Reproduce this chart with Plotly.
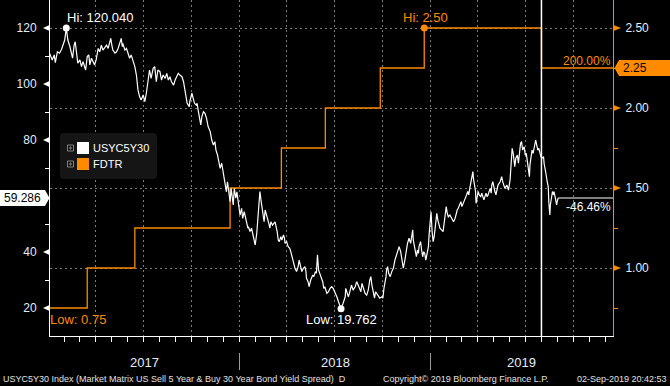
import plotly.graph_objects as go

# ---------------- data ----------------
usyc_md_2017 = ["01-03","01-08","01-12","01-14","01-18","01-22","01-26","01-29","02-01","02-04",
                "02-07","02-11","02-14","02-16","02-19","02-21","02-23","02-26","03-02","03-05",
                "03-08","03-11","03-13","03-16","03-19","03-21","03-24","03-27","03-30","04-02",
                "04-06","04-09","04-12","04-15","04-18","04-22","04-25","04-28","04-30","05-02",
                "05-04","05-08","05-11","05-14","05-17","05-20","05-22","05-23","05-27","05-30",
                "06-02","06-05","06-08","06-12","06-15","06-18","06-21","06-24","06-27","07-01",
                "07-04","07-07","07-10","07-13","07-16","07-20","07-23","07-26","07-29",
                "08-02","08-05","08-08","08-12","08-15","08-18","08-21","08-24","08-28","08-31",
                "09-03","09-06","09-09","09-13","09-16","09-19","09-21","09-23","09-27","09-28",
                "10-02","10-04","10-07","10-10","10-12","10-14","10-16","10-19","10-21","10-24","10-27","10-30",
                "11-02","11-06","11-09","11-12","11-15","11-17","11-20","11-22","11-25","11-28","11-30",
                "12-02","12-05","12-07","12-09","12-12","12-14","12-16","12-18","12-20","12-22","12-25","12-27","12-30"]
usyc_val_2017 = [111.0,108.6,110.4,107.6,111.5,111.0,112.4,114.0,115.7,120.04,
                 115.7,113.3,111.0,109.2,113.9,115.1,112.1,107.4,108.6,106.2,
                 108.0,105.6,105.0,109.8,110.4,106.8,109.2,108.0,106.8,108.6,
                 112.7,111.5,113.9,112.1,113.1,113.9,112.7,114.5,116.3,113.9,
                 112.1,111.0,111.5,112.7,114.5,116.3,113.3,114.5,112.1,112.7,
                 111.0,109.2,110.4,108.0,106.2,103.2,97.9,95.5,94.3,96.1,
                 93.7,96.7,100.2,105.0,102.0,105.6,106.2,100.8,105.0,
                 104.4,101.4,103.2,102.0,103.8,101.4,102.6,100.8,99.6,101.4,
                 102.6,103.8,103.2,102.6,100.8,97.3,94.9,93.1,91.9,93.7,
                 96.7,94.9,93.1,92.5,93.1,90.7,89.0,85.4,88.3,90.1,89.5,87.7,
                 84.8,83.0,80.0,78.2,79.4,76.4,74.6,72.3,69.9,71.7,69.3,
                 66.9,63.9,61.5,65.1,60.4,58.0,62.7,60.4,56.8,62.7,59.2,61.5,58.0]

usyc_md_2018 = ["01-02","01-05","01-07","01-10","01-13","01-17","01-18","01-21","01-24","01-27","01-31",
                "02-03","02-06","02-08","02-09","02-11","02-13","02-16","02-17","02-19","02-22","02-24","02-26","02-28",
                "03-02","03-05","03-07","03-10","03-12","03-14","03-16","03-18","03-21","03-23","03-26","03-28","03-29",
                "04-01","04-04","04-07","04-09","04-11","04-14","04-17","04-20","04-23","04-25","04-28","04-30",
                "05-03","05-06","05-08","05-09","05-12","05-14","05-17","05-19","05-21","05-23","05-26","05-28","05-30",
                "06-01","06-04","06-07","06-09","06-11","06-13","06-17","06-20","06-23","06-26","06-29",
                "07-02","07-06","07-09","07-14","07-18","07-22","07-23","07-26","07-28","07-30",
                "08-01","08-03","08-06","08-10","08-13","08-16","08-19","08-21","08-23","08-26","08-29",
                "09-01","09-04","09-07","09-09","09-11","09-14","09-16","09-18","09-20","09-23","09-26","09-30",
                "10-02","10-04","10-06","10-08","10-09","10-11","10-13","10-16","10-19","10-22","10-25","10-28","10-31",
                "11-02","11-05","11-07","11-09","11-10","11-13","11-15","11-18","11-20","11-21","11-24","11-26","11-28","11-29",
                "12-01","12-03","12-05","12-07","12-09","12-10","12-13","12-15","12-17","12-19","12-21","12-23","12-26","12-28","12-29","12-31"]
usyc_val_2018 = [53.2,55.6,52.0,54.4,51.4,48.5,49.0,47.3,48.5,45.5,42.5,
                 46.7,53.8,58.0,61.6,58.6,55.6,52.6,50.8,55.0,53.2,52.0,50.2,48.5,
                 50.8,49.6,50.2,50.8,49.0,47.3,44.3,43.7,45.5,44.3,46.1,44.9,43.1,
                 43.7,41.9,41.3,40.1,38.3,36.0,34.2,33.0,34.8,37.1,34.8,33.0,
                 34.2,34.8,33.0,30.6,29.4,27.6,30.0,31.2,31.8,31.2,33.0,32.4,39.0,
                 33.6,31.8,30.6,29.4,27.0,27.6,25.2,25.8,27.0,27.6,27.0,
                 25.8,24.0,22.3,19.762,21.7,24.0,27.0,25.2,24.0,25.2,
                 27.0,28.2,26.4,27.6,29.4,28.2,27.0,25.8,28.8,27.0,25.2,
                 24.6,26.4,30.0,31.2,28.2,24.6,23.5,25.8,25.2,24.0,23.5,24.0,
                 23.5,27.0,28.8,31.2,33.6,34.8,32.4,31.2,33.0,34.2,37.1,38.9,40.7,
                 41.9,40.1,37.7,35.4,34.2,37.1,40.1,43.1,44.3,44.9,43.1,45.5,47.9,44.3,
                 42.5,40.1,38.3,40.7,39.5,41.9,43.7,40.7,38.3,40.1,39.5,37.1,39.5,41.9,45.5,50.8]

usyc_md_2019 = ["01-02","01-04","01-06","01-08","01-10","01-11","01-13","01-15","01-17","01-19","01-22","01-25","01-29","01-31",
                "02-02","02-04","02-07","02-10","02-14","02-17","02-19","02-21","02-23","02-26","02-28",
                "03-02","03-05","03-08","03-11","03-13","03-15","03-17","03-19","03-21","03-23","03-24","03-26","03-28","03-29","03-31",
                "04-02","04-04","04-07","04-09","04-11","04-13","04-15","04-17","04-19","04-21","04-23","04-25","04-27","04-28","04-30",
                "05-02","05-04","05-06","05-09","05-10","05-14","05-17","05-19","05-21","05-23","05-27","05-30",
                "06-02","06-04","06-06","06-08","06-11","06-13","06-16","06-18","06-20","06-22","06-24","06-26","06-29",
                "07-01","07-03","07-05","07-07","07-09","07-10","07-12","07-14","07-16","07-18","07-21","07-23","07-25","07-27","07-29","07-31",
                "08-02","08-05","08-06","08-08","08-10","08-12","08-14","08-15","08-17","08-18","08-20","08-22","08-24","08-25","08-27","08-29","08-30","08-31",
                "09-02"]
usyc_val_2019 = [54.4,47.3,43.7,45.5,49.0,51.4,53.8,51.4,50.2,48.5,47.9,47.3,53.2,56.2,
                 53.8,52.6,53.2,52.0,50.8,52.0,53.8,55.0,55.6,56.8,58.0,
                 56.2,57.4,58.6,60.4,61.6,60.4,62.7,64.5,65.7,68.7,66.3,63.9,61.6,57.4,59.8,
                 61.6,60.4,59.8,61.0,59.8,58.6,59.8,61.0,59.8,60.4,61.6,62.7,61.0,63.9,65.1,
                 62.7,61.6,60.4,62.7,63.9,65.1,66.9,65.1,63.3,62.7,63.9,62.1,
                 65.7,72.3,77.0,75.2,70.5,73.5,74.6,71.7,75.8,78.8,79.4,76.4,77.6,
                 74.6,75.2,72.9,70.5,66.9,71.1,74.6,76.4,75.2,77.6,80.0,78.2,76.4,77.0,75.2,74.0,
                 73.5,74.0,71.7,68.7,67.5,65.1,63.3,58.0,53.2,56.8,59.8,61.6,60.4,61.6,59.8,58.0,56.8,58.0,
                 59.286]

fdtr_dates = ["2017-01-03","2017-03-16","2017-06-15","2017-12-14","2018-03-22",
              "2018-06-14","2018-09-27","2018-12-20","2019-08-01","2019-09-02"]
fdtr_vals = [0.75, 1.00, 1.25, 1.50, 1.75, 2.00, 2.25, 2.50, 2.25, 2.25]

usyc_hi = ("2017-02-04", 120.040)
usyc_lo = ("2018-07-14", 19.762)
fdtr_hi = ("2018-12-20", 2.50)
fdtr_lo = ("2017-01-03", 0.75)
usyc_last = 59.286
fdtr_last = 2.25
usyc_change = "-46.46%"
fdtr_change = "200.00%"
cut_date = "2019-08-01"
last_date = "2019-09-02"

left_ticks = [20, 40, 60, 80, 100, 120]
right_ticks = [1.00, 1.50, 2.00, 2.50]
year_labels = ["2017", "2018", "2019"]

assert len(usyc_md_2017) == len(usyc_val_2017)
assert len(usyc_md_2018) == len(usyc_val_2018)
assert len(usyc_md_2019) == len(usyc_val_2019)

usyc_dates = ([f"2017-{d}" for d in usyc_md_2017] + [f"2018-{d}" for d in usyc_md_2018]
              + [f"2019-{d}" for d in usyc_md_2019])
usyc_vals = usyc_val_2017 + usyc_val_2018 + usyc_val_2019

# ---------------- styling / geometry ----------------
W, H = 670, 386
PL, PR, PT, PB = 50, 613, 0, 336
X_RANGE = ["2017-01-03 21:00", "2019-12-15 17:00"]
YL_RANGE = [10, 130]        # USYC5Y30 (left)
YR_RANGE = [0.575, 2.675]   # FDTR (right)
ORANGE = "#ff8a00"
TXT = "#e4ecf8"
GRID = "#7a7a7a"
FONT = "Liberation Sans, Arial, sans-serif"


def xp(px):
    return (px - PL) / (PR - PL)


def yp(py):
    return (PB - py) / (PB - PT)


def py_left(v):
    return PT + (YL_RANGE[1] - v) / (YL_RANGE[1] - YL_RANGE[0]) * (PB - PT)


def py_right(v):
    return PT + (YR_RANGE[1] - v) / (YR_RANGE[1] - YR_RANGE[0]) * (PB - PT)


fig = go.Figure()

# FDTR on main (right-side) axis so that USYC (overlay) is drawn on top
fig.add_trace(go.Scatter(x=fdtr_dates, y=fdtr_vals, mode="lines", yaxis="y",
                         line=dict(color=ORANGE, width=1.3, shape="hv"),
                         hoverinfo="skip", showlegend=False))
fig.add_trace(go.Scatter(x=[fdtr_hi[0], fdtr_lo[0]], y=[fdtr_hi[1], fdtr_lo[1]], mode="markers",
                         yaxis="y", marker=dict(color=ORANGE, size=7), cliponaxis=False,
                         hoverinfo="skip", showlegend=False))
fig.add_trace(go.Scatter(x=usyc_dates, y=usyc_vals, mode="lines", yaxis="y2",
                         line=dict(color="white", width=1.2),
                         hoverinfo="skip", showlegend=False))
fig.add_trace(go.Scatter(x=[usyc_hi[0], usyc_lo[0]], y=[usyc_hi[1], usyc_lo[1]], mode="markers",
                         yaxis="y2", marker=dict(color="white", size=7), cliponaxis=False,
                         hoverinfo="skip", showlegend=False))

shapes = []
# last-value extension lines
shapes.append(dict(type="line", xref="x", yref="y2", x0=last_date, x1=X_RANGE[1],
                   y0=usyc_last, y1=usyc_last, line=dict(color="white", width=1.2)))
shapes.append(dict(type="line", xref="x", yref="y", x0=last_date, x1=X_RANGE[1],
                   y0=fdtr_last, y1=fdtr_last, line=dict(color=ORANGE, width=1.3)))
# event line (rate cut)
shapes.append(dict(type="line", xref="x", yref="paper", x0=cut_date, x1=cut_date, y0=0, y1=1,
                   line=dict(color="white", width=1.5)))

# left axis triangles (the one under the last-value tag is hidden by it)
for v in left_ticks:
    py = py_left(v)
    if abs(py - py_left(usyc_last)) < 10:
        continue
    shapes.append(dict(type="path", xref="paper", yref="paper", fillcolor="white",
                       line=dict(width=0),
                       path=f"M {xp(49.5)},{yp(py-3)} L {xp(43)},{yp(py)} L {xp(49.5)},{yp(py+3)} Z"))
# right axis triangles
for v in right_ticks:
    py = py_right(v)
    shapes.append(dict(type="path", xref="paper", yref="paper", fillcolor=ORANGE,
                       line=dict(width=0),
                       path=f"M {xp(613.5)},{yp(py-3)} L {xp(621)},{yp(py)} L {xp(613.5)},{yp(py+3)} Z"))

# last value tags
pyl = py_left(usyc_last)
shapes.append(dict(type="path", xref="paper", yref="paper", fillcolor="white", line=dict(width=0),
                   path=(f"M {xp(0)},{yp(pyl-8)} L {xp(45)},{yp(pyl-8)} L {xp(49.5)},{yp(pyl)} "
                         f"L {xp(45)},{yp(pyl+8)} L {xp(0)},{yp(pyl+8)} Z")))
pyr = py_right(fdtr_last)
shapes.append(dict(type="path", xref="paper", yref="paper", fillcolor=ORANGE, line=dict(width=0),
                   path=(f"M {xp(614.5)},{yp(pyr)} L {xp(619)},{yp(pyr-8)} L {xp(670)},{yp(pyr-8)} "
                         f"L {xp(670)},{yp(pyr+8)} L {xp(619)},{yp(pyr+8)} Z")))

# year separators below the axis
for d in ["2018-01-01", "2019-01-01"]:
    shapes.append(dict(type="line", xref="x", yref="paper", x0=d, x1=d, y0=yp(353), y1=yp(370),
                       line=dict(color="#9a9a9a", width=1)))

# legend box
lx0, lx1, ly0, ly1, r = 60, 157, 133, 179, 4
shapes.append(dict(type="path", xref="paper", yref="paper", fillcolor="#151515", line=dict(width=0),
                   path=(f"M {xp(lx0+r)},{yp(ly0)} L {xp(lx1-r)},{yp(ly0)} Q {xp(lx1)},{yp(ly0)} {xp(lx1)},{yp(ly0+r)} "
                         f"L {xp(lx1)},{yp(ly1-r)} Q {xp(lx1)},{yp(ly1)} {xp(lx1-r)},{yp(ly1)} "
                         f"L {xp(lx0+r)},{yp(ly1)} Q {xp(lx0)},{yp(ly1)} {xp(lx0)},{yp(ly1-r)} "
                         f"L {xp(lx0)},{yp(ly0+r)} Q {xp(lx0)},{yp(ly0)} {xp(lx0+r)},{yp(ly0)} Z")))
legend_items = [("USYC5Y30", "white", 148), ("FDTR", ORANGE, 164)]
for name, col, cy in legend_items:
    # expand icon
    shapes.append(dict(type="rect", xref="paper", yref="paper", x0=xp(67.5), x1=xp(73.5),
                       y0=yp(cy - 3), y1=yp(cy + 3), line=dict(color="#808080", width=1)))
    shapes.append(dict(type="line", xref="paper", yref="paper", x0=xp(69), x1=xp(72),
                       y0=yp(cy), y1=yp(cy), line=dict(color="#808080", width=1)))
    shapes.append(dict(type="line", xref="paper", yref="paper", x0=xp(70.5), x1=xp(70.5),
                       y0=yp(cy - 1.5), y1=yp(cy + 1.5), line=dict(color="#808080", width=1)))
    shapes.append(dict(type="rect", xref="paper", yref="paper", x0=xp(77), x1=xp(89),
                       y0=yp(cy - 6), y1=yp(cy + 6), fillcolor=col, line=dict(width=0)))

annotations = []


def ann(text, x, y, color, size, xanchor="left"):
    annotations.append(dict(text=text, x=x, y=y, xref="paper", yref="paper", showarrow=False,
                            xanchor=xanchor, yanchor="middle", borderpad=0,
                            font=dict(color=color, size=size, family=FONT)))


ann(f"Hi: {usyc_hi[1]:.3f}", xp(66), yp(17), "white", 13, "left")
ann(f"Hi: {fdtr_hi[1]:.2f}", xp(425.5), yp(17), ORANGE, 13, "center")
ann(f"Low: {usyc_lo[1]:.3f}", xp(341.5), yp(319), "white", 13, "center")
ann(f"Low: {fdtr_lo[1]:.2f}", xp(49), yp(319), ORANGE, 13, "left")
ann(fdtr_change, xp(612), yp(61), ORANGE, 12, "right")
ann(usyc_change, xp(612), yp(207), "white", 12, "right")
ann(f"{usyc_last:.3f}", xp(22), yp(pyl), "black", 12, "center")
ann(f"{fdtr_last:.2f}", xp(622), yp(pyr), "black", 12, "left")
for name, col, cy in legend_items:
    ann(name, xp(92), yp(cy), "white", 11, "left")
for label, px in zip(year_labels, [144, 335, 521.5]):
    ann(label, xp(px), yp(362), TXT, 13, "center")
ann("USYC5Y30 Index (Market Matrix US Sell 5 Year & Buy 30 Year Bond Yield Spread)  D",
    xp(2), yp(378.5), "#e0e0e0", 9, "left")
ann("Copyright\u00a9 2019 Bloomberg Finance L.P.", xp(382), yp(378.5), "#e0e0e0", 9, "left")
ann("02-Sep-2019 20:42:53", xp(668), yp(378.5), "#e0e0e0", 9, "right")

fig.update_layout(
    width=W, height=H,
    margin=dict(l=PL, r=W - PR, t=PT, b=H - PB, pad=0),
    paper_bgcolor="black", plot_bgcolor="black",
    showlegend=False, hovermode=False,
    font=dict(family=FONT, color=TXT, size=12),
    xaxis=dict(type="date", range=X_RANGE, showline=True, linecolor="white", linewidth=1,
               showgrid=True, gridcolor=GRID, griddash="2px,3px", gridwidth=1,
               dtick="M3", tick0="2017-01-01", showticklabels=False,
               ticks="outside", ticklen=5, tickcolor="white",
               minor=dict(dtick="M1", tick0="2017-01-01", ticks="outside", ticklen=5,
                          tickcolor="white", showgrid=False),
               zeroline=False, fixedrange=True),
    yaxis=dict(range=YR_RANGE, side="right", showline=True, linecolor=ORANGE, linewidth=1,
               tickvals=right_ticks, ticktext=[f"{v:.2f}" for v in right_ticks],
               ticks="", ticklabelstandoff=9, tickfont=dict(color=TXT, size=12),
               showgrid=True, gridcolor=GRID, griddash="2px,3px", gridwidth=1,
               minor=dict(tickvals=[0.75, 1.25, 1.75, 2.25], ticks="outside", ticklen=4,
                          tickcolor=ORANGE, showgrid=False),
               zeroline=False, fixedrange=True),
    yaxis2=dict(range=YL_RANGE, side="left", overlaying="y", showline=True, linecolor="white",
                linewidth=1, tickvals=left_ticks,
                ticktext=["" if abs(py_left(v) - py_left(usyc_last)) < 10 else str(v) for v in left_ticks],
                ticks="", ticklabelstandoff=10,
                tickfont=dict(color=TXT, size=12), showgrid=False,
                minor=dict(tickvals=[30, 50, 70, 90, 110], ticks="outside", ticklen=4,
                           tickcolor="white", showgrid=False),
                zeroline=False, fixedrange=True),
    shapes=shapes,
    annotations=annotations,
)

fig.write_html(
    "out.html",
    config={"displayModeBar": False, "staticPlot": True},
    post_script=("document.documentElement.style.background='black';"
                 "document.body.style.margin='0';document.body.style.padding='0';"
                 "document.body.style.background='black';"),
)
